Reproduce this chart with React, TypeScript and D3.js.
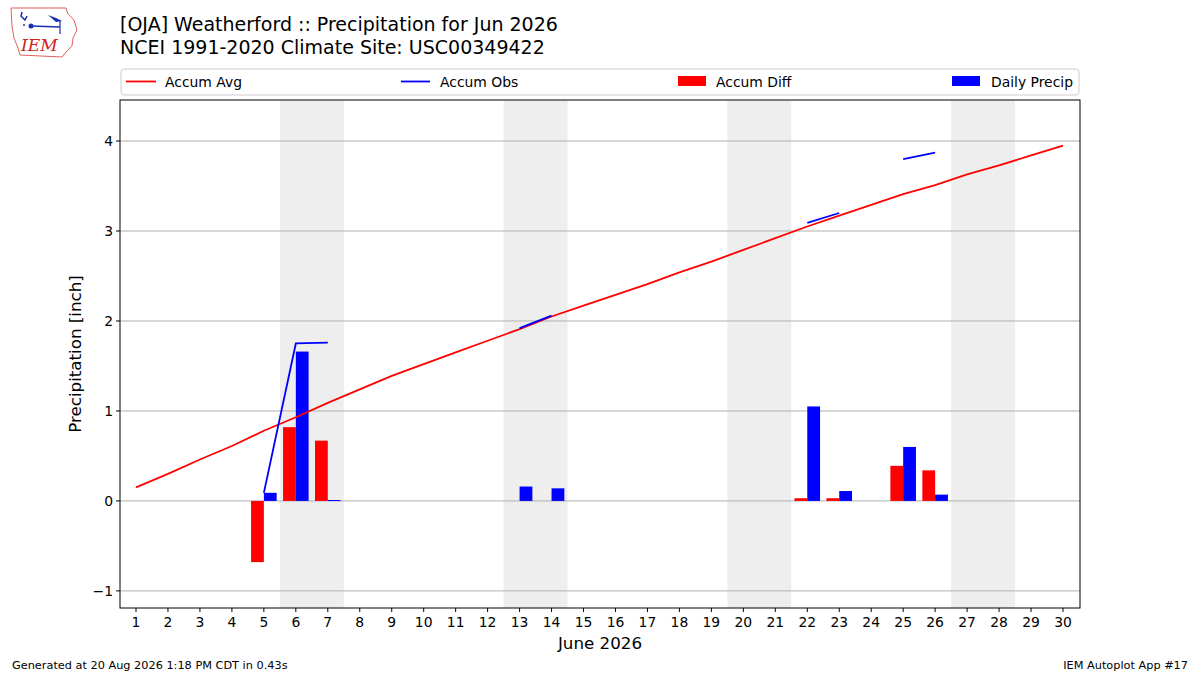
import React from "react";
import * as d3 from "d3";

const days = d3.range(1, 31);
const accumAvg = [0.15, 0.3, 0.46, 0.61, 0.78, 0.93, 1.09, 1.24, 1.39, 1.52, 1.65, 1.78, 1.91, 2.05, 2.17, 2.29, 2.41, 2.54, 2.66, 2.79, 2.92, 3.05, 3.17, 3.29, 3.41, 3.51, 3.63, 3.73, 3.84, 3.95];
const obsDays = [5, 6, 7, 13, 14, 22, 23, 25, 26];
const dailyPrecip = [0.09, 1.66, 0.01, 0.16, 0.14, 1.05, 0.11, 0.6, 0.07];
const accumObs = [0.09, 1.75, 1.76, 1.92, 2.06, 3.09, 3.2, 3.8, 3.87];
const accumDiff = [-0.68, 0.82, 0.67, 0.0, 0.0, 0.03, 0.03, 0.39, 0.34];
const weekends = [6, 13, 20, 27];
const yTicks = [-1, 0, 1, 2, 3, 4];

const W = 1200, H = 675;
const L = 120, R = 1080, T = 100, B = 608;
const font = "DejaVu Sans, sans-serif";

export default function App() {
  const x = d3.scaleLinear().domain([1, 30]).range([136, 1063]);
  const y = d3.scaleLinear().domain([-1.19, 4.456]).range([B, T]);
  const dayW = x(2) - x(1);
  const bw = 0.4 * dayW;

  const avgLine = d3.line<number>().x((_, i) => x(days[i])).y((d) => y(d))(accumAvg) || "";
  const obsFull = days.map((d) => {
    const k = obsDays.indexOf(d);
    return k >= 0 ? accumObs[k] : null;
  });
  const obsLine = d3
    .line<number | null>()
    .defined((d) => d !== null)
    .x((_, i) => x(days[i]))
    .y((d) => y(d as number))(obsFull) || "";

  return (
    <div style={{ position: "absolute", left: 0, top: 0 }}>
      <svg width={W} height={H} style={{ display: "block", background: "#fff" }} fontFamily={font}>
        {/* logo */}
        <g>
          <path d="M11,8 L66,8 L68,14 L74,20 L77,30 L73,38 L72,46 L66,52 L62,57 L20,55 L18,48 L14,38 L12,26 Z" fill="none" stroke="#e06060" strokeWidth={1} />
          <path d="M22,12 L21,16 L25,20 L27,16" fill="none" stroke="#1a2fb0" strokeWidth={1.5} />
          <circle cx={24} cy={25} r={1} fill="#1a2fb0" />
          <circle cx={31} cy={26} r={2.5} fill="#1a2fb0" />
          <line x1={31} y1={26} x2={60} y2={27} stroke="#1a2fb0" strokeWidth={1.5} />
          <path d="M48,15 L56,18 L62,21 L56,22 Z" fill="#1a2fb0" />
          <line x1={60} y1={20} x2={60} y2={34} stroke="#1a2fb0" strokeWidth={1.2} />
          <text x={21} y={51} fontFamily="DejaVu Serif, serif" fontStyle="italic" fontSize={17} fill="#d02020">IEM</text>
        </g>
        {/* titles */}
        <text x={120} y={31} fontSize={19}>[OJA] Weatherford :: Precipitation for Jun 2026</text>
        <text x={120} y={54} fontSize={19}>NCEI 1991-2020 Climate Site: USC00349422</text>

        {/* weekends */}
        {weekends.map((d) => (
          <rect key={d} x={x(d - 0.5)} y={T} width={x(d + 1.5) - x(d - 0.5)} height={B - T} fill="#eeeeee" />
        ))}
        {/* grid */}
        {yTicks.map((t) => (
          <line key={t} x1={L} x2={R} y1={y(t)} y2={y(t)} stroke="#b0b0b0" strokeWidth={1} />
        ))}
        {/* bars */}
        {obsDays.map((d, i) => {
          const v = accumDiff[i];
          if (v === 0) return null;
          return (
            <rect key={"d" + d} x={x(d) - bw} width={bw} y={y(Math.max(0, v))} height={Math.abs(y(v) - y(0))} fill="#ff0000" />
          );
        })}
        {obsDays.map((d, i) => {
          const v = dailyPrecip[i];
          return <rect key={"p" + d} x={x(d)} width={bw} y={y(v)} height={Math.max(1, y(0) - y(v))} fill="#0000ff" />;
        })}
        {/* lines */}
        <path d={avgLine} fill="none" stroke="#ff0000" strokeWidth={1.8} />
        <path d={obsLine} fill="none" stroke="#0000ff" strokeWidth={1.8} />

        {/* frame */}
        <rect x={L} y={T} width={R - L} height={B - T} fill="none" stroke="#000" strokeWidth={1} />
        {/* x ticks */}
        {days.map((d) => (
          <g key={d}>
            <line x1={x(d)} x2={x(d)} y1={B} y2={B + 4} stroke="#000" />
            <text x={x(d)} y={B + 19} fontSize={13.9} textAnchor="middle">{d}</text>
          </g>
        ))}
        {yTicks.map((t) => (
          <g key={t}>
            <line x1={L - 4} x2={L} y1={y(t)} y2={y(t)} stroke="#000" />
            <text x={L - 7} y={y(t) + 5} fontSize={13.9} textAnchor="end">{t < 0 ? "\u2212" + Math.abs(t) : t}</text>
          </g>
        ))}
        <text x={(L + R) / 2} y={649} fontSize={16.7} textAnchor="middle">June 2026</text>
        <text transform={`translate(81,${(T + B) / 2}) rotate(-90)`} fontSize={16.7} textAnchor="middle">Precipitation [inch]</text>

        {/* legend */}
        <rect x={121} y={69} width={958} height={26} rx={3} fill="#fff" stroke="#cccccc" />
        <line x1={126} x2={156} y1={81.5} y2={81.5} stroke="#ff0000" strokeWidth={1.8} />
        <text x={165} y={86.5} fontSize={13.9}>Accum Avg</text>
        <line x1={401} x2={430} y1={81.5} y2={81.5} stroke="#0000ff" strokeWidth={1.8} />
        <text x={440} y={86.5} fontSize={13.9}>Accum Obs</text>
        <rect x={678} y={76} width={28} height={10} fill="#ff0000" />
        <text x={716} y={86.5} fontSize={13.9}>Accum Diff</text>
        <rect x={952} y={76} width={28} height={10} fill="#0000ff" />
        <text x={991} y={86.5} fontSize={13.9}>Daily Precip</text>

        {/* footer */}
        <text x={12} y={669} fontSize={11.3}>Generated at 20 Aug 2026 1:18 PM CDT in 0.43s</text>
        <text x={1188} y={669} fontSize={11.3} textAnchor="end">IEM Autoplot App #17</text>
      </svg>
    </div>
  );
}
